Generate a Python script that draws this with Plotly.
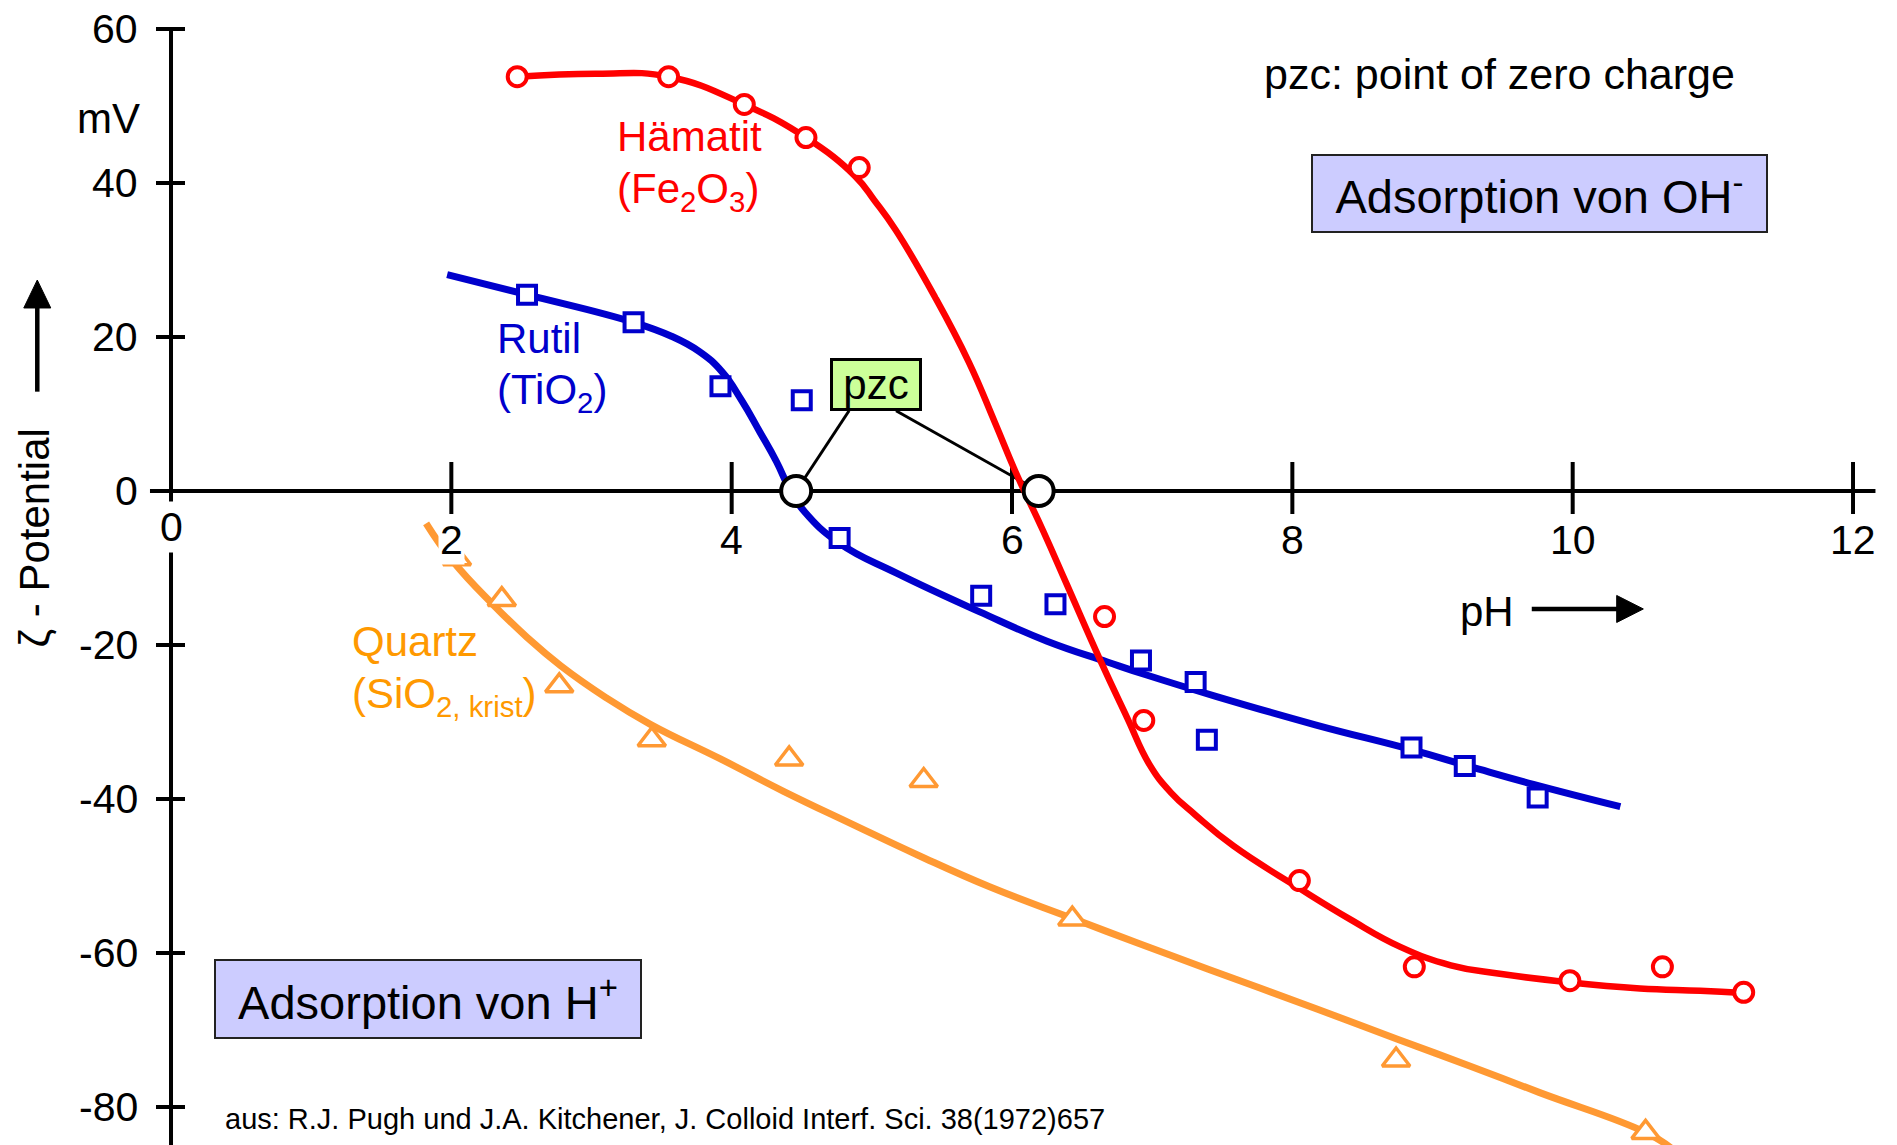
import plotly.graph_objects as go

FONT = "Liberation Sans, Arial, Helvetica, sans-serif"

# Axis ticks
ph_ticks = [0, 2, 4, 6, 8, 10, 12]
zeta_ticks = [60, 40, 20, 0, -20, -40, -60, -80]

# Hämatit (Fe2O3): measured zeta potentials
hem_ph = [2.47, 3.55, 4.09, 4.53, 4.91, 6.66, 6.94, 8.05, 8.87, 9.98, 10.64, 11.22]
hem_zeta = [53.8, 53.8, 50.2, 45.9, 42.0, -16.3, -29.8, -50.6, -61.8, -63.6, -61.8, -65.1]
# Hämatit: smoothed curve
hem_fit_ph = [2.47, 3.04, 3.55, 4.09, 4.53, 4.88, 5.02, 5.17, 5.45, 5.69, 5.88, 6.02, 6.22, 6.39,
              6.63, 6.82, 6.98, 7.13, 7.31, 7.58, 8.05, 8.41, 8.77, 9.13, 9.48, 9.97, 10.48, 10.91, 11.22]
hem_fit_zeta = [53.8, 54.2, 53.8, 50.2, 45.9, 40.9, 37.7, 33.9, 25.2, 16.8, 8.8, 2.7, -5.1, -12.1,
                -22.0, -29.4, -35.5, -39.1, -42.1, -46.1, -51.6, -55.6, -59.2, -61.6, -62.7, -63.8, -64.6, -64.9, -65.2]

# Rutil (TiO2): measured zeta potentials
rut_ph = [2.54, 3.30, 3.92, 4.50, 4.77, 5.78, 6.31, 6.92, 7.31, 7.39, 8.85, 9.23, 9.75]
rut_zeta = [25.5, 21.9, 13.6, 11.8, -6.1, -13.6, -14.7, -22.0, -24.8, -32.3, -33.3, -35.7, -39.8]
# Rutil: smoothed curve
rut_fit_ph = [1.97, 2.54, 3.30, 3.57, 3.77, 3.93, 4.07, 4.20, 4.32, 4.42, 4.52, 4.77, 5.18, 5.77,
              6.25, 6.68, 6.96, 7.46, 8.17, 8.85, 9.27, 9.72, 10.34]
rut_fit_zeta = [28.1, 25.5, 21.9, 20.1, 18.1, 15.5, 11.8, 7.7, 3.8, 0.0, -2.7, -6.8, -10.7, -15.7,
                -19.5, -22.2, -23.9, -26.7, -30.4, -33.6, -35.8, -38.1, -41.0]

# Quartz (SiO2, krist): measured zeta potentials
qua_ph = [2.04, 2.36, 2.77, 3.43, 4.41, 5.37, 6.43, 8.74, 10.52]
qua_zeta = [-8.8, -14.1, -25.3, -32.3, -34.8, -37.6, -55.6, -73.9, -83.3]
# Quartz: smoothed curve
qua_fit_ph = [1.82, 2.01, 2.30, 2.54, 2.78, 3.10, 3.42, 3.92, 4.37, 4.84, 5.33, 5.84, 6.43, 6.91,
              7.40, 8.18, 8.75, 9.27, 9.76, 10.52, 10.70]
qua_fit_zeta = [-4.2, -9.1, -14.8, -19.0, -22.7, -26.8, -30.3, -34.8, -39.0, -43.1, -47.3, -51.4, -55.5, -58.8,
                -62.1, -67.3, -71.2, -74.7, -78.1, -83.3, -85.3]

# Points of zero charge
pzc_ph = [4.46, 6.19]
pzc_zeta = [0, 0]

RED = "#FF0000"
BLUE = "#0000CC"
ORANGE = "#FF9933"
ORANGE_TXT = "#FF9900"

# size of one screen pixel in data units
PXX = 1 / 140.17
PXY = 1 / 7.7

fig = go.Figure()

def curve(x, y, color, width):
    fig.add_trace(go.Scatter(x=x, y=y, mode="lines",
                             line=dict(color=color, width=width, shape="spline", smoothing=1.3),
                             hoverinfo="skip", showlegend=False))

def points(x, y, color, symbol, size, lw):
    fig.add_trace(go.Scatter(x=x, y=y, mode="markers",
                             marker=dict(symbol=symbol, size=size, color="white", line=dict(color=color, width=lw)),
                             showlegend=False))

curve(qua_fit_ph, qua_fit_zeta, ORANGE, 7)
points(qua_ph, qua_zeta, ORANGE, "triangle-up", 24, 3.5)
curve(rut_fit_ph, rut_fit_zeta, BLUE, 7)
points(rut_ph, rut_zeta, BLUE, "square", 18, 4)
curve(hem_fit_ph, hem_fit_zeta, RED, 6.5)
points(hem_ph, hem_zeta, RED, "circle", 19, 4)

# pzc markers on the pH axis
fig.add_trace(go.Scatter(x=pzc_ph, y=pzc_zeta, mode="markers",
                         marker=dict(symbol="circle", size=30, color="white", line=dict(color="black", width=4)),
                         showlegend=False))

shapes = []
blk = dict(color="black", width=4)
# axes
shapes.append(dict(type="line", xref="x", yref="y", x0=-0.15, x1=12.16, y0=0, y1=0, line=blk, layer="below"))
shapes.append(dict(type="line", xref="x", yref="y", x0=0, x1=0, y0=60, y1=-90, line=blk, layer="below"))
for t in ph_ticks[1:]:
    shapes.append(dict(type="line", xref="x", yref="y", x0=t, x1=t, y0=-23 * PXY, y1=29 * PXY, line=blk, layer="below"))
for t in zeta_ticks:
    if t != 0:
        shapes.append(dict(type="line", xref="x", yref="y", x0=-15 * PXX, x1=14 * PXX, y0=t, y1=t, line=blk, layer="below"))

# pzc connector lines
pzc_box_x, pzc_box_y = 5.03, 13.8
for px_, off in zip(pzc_ph, [-27, 20]):
    shapes.append(dict(type="line", xref="x", yref="y", x0=pzc_box_x + off * PXX, y0=pzc_box_y - 26 * PXY,
                       x1=px_, y1=0, line=dict(color="black", width=3), layer="below"))

# pH arrow
ax_y = -15.32
shapes.append(dict(type="line", xref="x", yref="y", x0=9.708, x1=10.33, y0=ax_y, y1=ax_y,
                   line=dict(color="black", width=4.5)))
shapes.append(dict(type="path", xref="x", yref="y",
                   path=f"M{10.314},{ax_y + 13.5 * PXY} L{10.504},{ax_y} L{10.314},{ax_y - 13.5 * PXY} Z",
                   fillcolor="black", line=dict(color="black", width=1)))
# zeta arrow
zx = -0.954
shapes.append(dict(type="line", xref="x", yref="y", x0=zx, x1=zx, y0=12.9, y1=24.2,
                   line=dict(color="black", width=4.5)))
shapes.append(dict(type="path", xref="x", yref="y",
                   path=f"M{zx - 13.5 * PXX},{23.77} L{zx},{27.4} L{zx + 13.5 * PXX},{23.77} Z",
                   fillcolor="black", line=dict(color="black", width=1)))

ann = []

def text(x, y, s, size, color="black", xa="left", ya="top", **kw):
    ann.append(dict(x=x, y=y, xref="x", yref="y", text=s, showarrow=False, xanchor=xa, yanchor=ya,
                    font=dict(family=FONT, size=size, color=color), **kw))

# tick labels
for t in ph_ticks:
    if t == 0:
        text(t, -4.68, str(t), 41, xa="center", ya="middle", bgcolor="white", borderpad=2)
    else:
        text(t, -6.36, str(t), 41, xa="center", ya="middle", bgcolor="white")
for t in zeta_ticks:
    text(-0.221, t, str(t), 41, xa="right", ya="middle")

text(-0.207, 51.69, "mV", 42, xa="right")
text(-0.967, -6.1, "ζ - Potential", 42, xa="center", ya="middle", textangle=-90)
text(9.182, -12.34, "pH", 42)

# series labels
text(3.167, 49.35, "Hämatit", 42, RED)
text(3.167, 42.64, "(Fe<sub>2</sub>O<sub>3</sub>)", 42, RED)
text(2.31, 23.16, "Rutil", 42, BLUE)
text(2.31, 16.49, "(TiO<sub>2</sub>)", 42, BLUE)
text(1.277, -16.23, "Quartz", 42, ORANGE_TXT)
text(1.277, -22.95, "(SiO<sub>2, krist</sub>)", 42, ORANGE_TXT)

text(7.783, 57.58, "pzc: point of zero charge", 43)
text(pzc_box_x, pzc_box_y, "pzc", 42, xa="center", ya="middle", bgcolor="#CCFF99",
     bordercolor="black", borderwidth=3, borderpad=0, width=86, height=47)
text(9.762, 38.66, "Adsorption von OH<sup>-</sup>", 47, xa="center", ya="middle", bgcolor="#CCCCFF",
     bordercolor="#222222", borderwidth=2, borderpad=0, width=453, height=75)
text(1.834, -65.93, "Adsorption von H<sup>+</sup>", 47, xa="center", ya="middle", bgcolor="#CCCCFF",
     bordercolor="#222222", borderwidth=2, borderpad=0, width=424, height=76)
text(0.371, -79.19, "aus: R.J. Pugh und J.A. Kitchener, J. Colloid Interf. Sci. 38(1972)657", 29)

fig.update_layout(
    width=1897, height=1145,
    margin=dict(l=0, r=0, t=0, b=0),
    paper_bgcolor="white", plot_bgcolor="white",
    xaxis=dict(range=[-1.2200, 12.3137], visible=False, fixedrange=True),
    yaxis=dict(range=[-84.935, 63.766], visible=False, fixedrange=True),
    shapes=shapes, annotations=ann, showlegend=False, hovermode=False,
)

fig.write_html("out.html")
